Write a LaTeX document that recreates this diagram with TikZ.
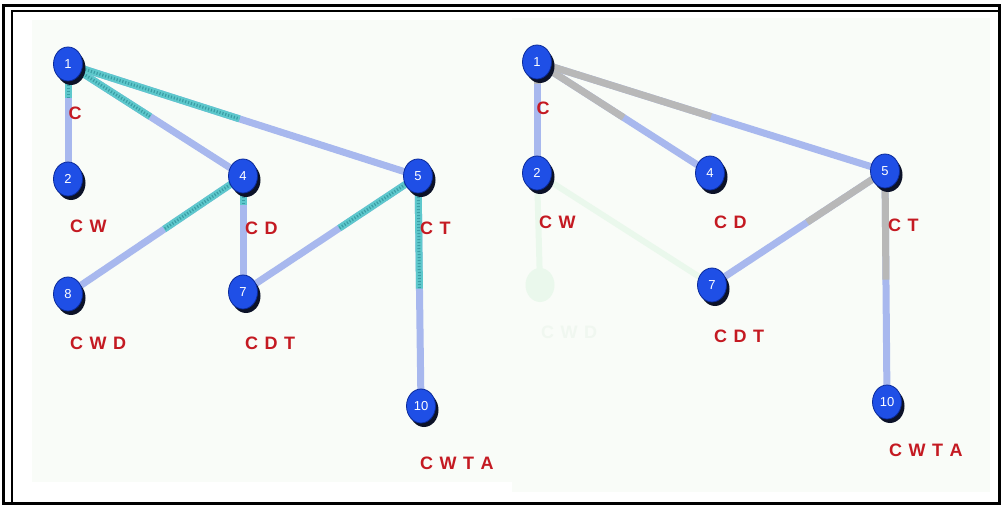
\documentclass[tikz,border=0pt]{standalone}
\usepackage{fontspec}
\setmainfont{Liberation Sans}
\usetikzlibrary{calc,backgrounds,shapes.geometric}
\definecolor{nodeblue}{HTML}{1F4FE6}
\definecolor{nodeedge}{HTML}{0A2A9A}
\definecolor{shadowc}{HTML}{0C1228}
\definecolor{edgeblue}{HTML}{A8B8EE}
\definecolor{tealc}{HTML}{5EC8CC}
\definecolor{tealdark}{HTML}{3A9EA6}
\definecolor{greyc}{HTML}{B8B8B8}
\definecolor{labred}{HTML}{C41A22}
\definecolor{panelbg}{HTML}{F9FCF8}
\definecolor{faintg}{HTML}{EAF8EC}
\definecolor{faintt}{HTML}{F0F7F0}
\tikzset{
  x=1pt,y=-1pt,
  vtx/.style={ellipse,minimum width=29pt,minimum height=34pt,inner sep=0pt,fill=nodeblue,draw=nodeedge,line width=0.8pt,
    text=white,font=\fontsize{13}{13}\selectfont,
    preaction={fill=shadowc,transform canvas={xshift=3pt,yshift=-4pt}}},
  fvtx/.style={ellipse,minimum width=29pt,minimum height=34pt,inner sep=0pt,fill=faintg,draw=none},
  lab/.style={text=labred,font=\fontsize{18}{18}\selectfont\bfseries,inner sep=0pt},
  flab/.style={text=faintt,font=\fontsize{18}{18}\selectfont\bfseries,inner sep=0pt},
  edg/.style={draw=edgeblue,line width=7pt},
  tedg/.style={draw=tealc,line width=7pt,postaction={draw=tealdark,line width=3pt,dash pattern=on 1.2pt off 1.8pt}},
  gedg/.style={draw=greyc,line width=7pt},
  fedg/.style={draw=faintg,line width=6pt},
}
\newcommand{\lsp}{\hspace{6.5pt}}
\begin{document}
\begin{tikzpicture}
\useasboundingbox (0,0) rectangle (1003,508);

% ---------------- left graph ----------------
\node[vtx] (a1) at (68,64) {1};
\node[vtx] (a2) at (68,179) {2};
\node[vtx] (a4) at (243,176) {4};
\node[vtx] (a5) at (418,176) {5};
\node[vtx] (a8) at (68,294) {8};
\node[vtx] (a7) at (243,292) {7};
\node[vtx] (a10) at (421,406) {10};

% ---------------- right graph ----------------
\node[fvtx] (b8) at (540,285) {};
\node[vtx] (b1) at (537,62) {1};
\node[vtx] (b2) at (537,173) {2};
\node[vtx] (b4) at (710,173) {4};
\node[vtx] (b5) at (885,171) {5};
\node[vtx] (b7) at (712,285) {7};
\node[vtx] (b10) at (887,402) {10};

\begin{pgfonlayer}{background}
\fill[white] (0,0) rectangle (1003,508);
% panels
\fill[panelbg] (32,20) rectangle (512,482);
\fill[panelbg] (512,18) rectangle (990,492);
% frame
\draw[line width=3pt] (3.5,5.5) rectangle (999.5,503.5);
\draw[line width=1.6pt] (12,503) -- (12,11) -- (999,11);
% left
\path[edg] (a1.center) -- (a2.center);
\path[tedg] (a1.center) -- ($(a1.center)!0.3!(a2.center)$);
\path[edg] (a1.center) -- (a4.center);
\path[tedg] (a1.center) -- ($(a1.center)!0.47!(a4.center)$);
\path[edg] (a1.center) -- (a5.center);
\path[tedg] (a1.center) -- ($(a1.center)!0.49!(a5.center)$);
\path[edg] (a4.center) -- (a8.center);
\path[tedg] (a4.center) -- ($(a4.center)!0.45!(a8.center)$);
\path[edg] (a4.center) -- (a7.center);
\path[tedg] (a4.center) -- ($(a4.center)!0.25!(a7.center)$);
\path[edg] (a5.center) -- (a7.center);
\path[tedg] (a5.center) -- ($(a5.center)!0.45!(a7.center)$);
\path[edg] (a5.center) -- (a10.center);
\path[tedg] (a5.center) -- ($(a5.center)!0.49!(a10.center)$);
% right
\path[fedg] (b2.center) -- (b7.center);
\path[fedg] (b2.center) -- (b8.center);
\path[edg] (b1.center) -- (b2.center);
\path[gedg] (b1.center) -- ($(b1.center)!0.2!(b2.center)$);
\path[edg] (b1.center) -- (b4.center);
\path[gedg] (b1.center) -- ($(b1.center)!0.5!(b4.center)$);
\path[edg] (b1.center) -- (b5.center);
\path[gedg] (b1.center) -- ($(b1.center)!0.5!(b5.center)$);
\path[edg] (b5.center) -- (b7.center);
\path[gedg] (b5.center) -- ($(b5.center)!0.45!(b7.center)$);
\path[edg] (b5.center) -- (b10.center);
\path[gedg] (b5.center) -- ($(b5.center)!0.47!(b10.center)$);
\end{pgfonlayer}

% labels left
\node[lab] (la1) at (75,113) {C};
\node[lab,anchor=west] (la2) at (70,226) {C\lsp W};
\node[lab,anchor=west] (la4) at (245,228) {C\lsp D};
\node[lab,anchor=west] (la5) at (420,228) {C\lsp T};
\node[lab,anchor=west] (la8) at (70,343) {C\lsp W\lsp D};
\node[lab,anchor=west] (la7) at (245,343) {C\lsp D\lsp T};
\node[lab,anchor=west] (la10) at (420,463) {C\lsp W\lsp T\lsp A};
% labels right
\node[lab] (lb1) at (543,108) {C};
\node[lab,anchor=west] (lb2) at (539,222) {C\lsp W};
\node[lab,anchor=west] (lb4) at (714,222) {C\lsp D};
\node[lab,anchor=west] (lb5) at (888,225) {C\lsp T};
\node[flab,anchor=west] (lb8) at (541,332) {C\lsp W\lsp D};
\node[lab,anchor=west] (lb7) at (714,336) {C\lsp D\lsp T};
\node[lab,anchor=west] (lb10) at (889,450) {C\lsp W\lsp T\lsp A};
\end{tikzpicture}
\end{document}
